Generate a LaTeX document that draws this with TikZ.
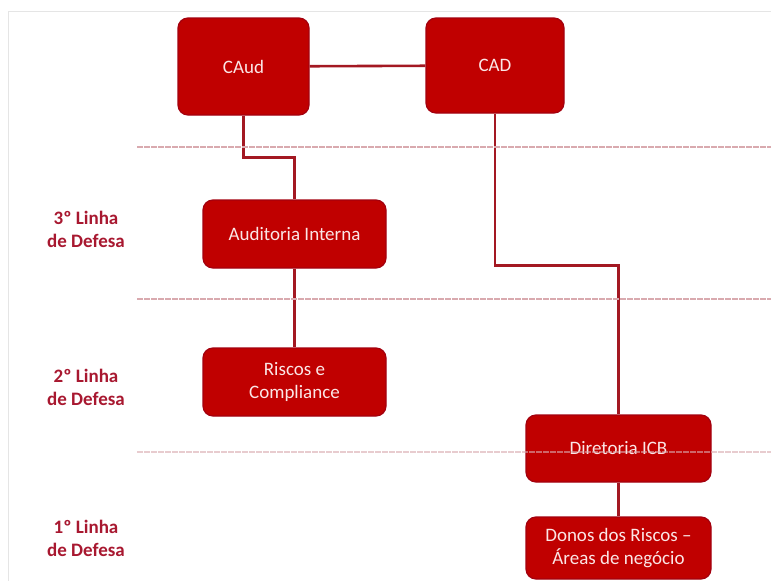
\documentclass[tikz,border=0pt]{standalone}
\usepackage{fontspec}
\setmainfont{Carlito}
\usepackage{tikz}
\usetikzlibrary{positioning, arrows.meta}

\definecolor{boxred}{HTML}{C00000}
\definecolor{boxedge}{HTML}{A3000E}
\definecolor{linkred}{HTML}{A31822}
\definecolor{lblred}{HTML}{A81830}
\definecolor{sepred}{HTML}{D9AAAF}
\definecolor{boxtext}{HTML}{FBE6E6}

\begin{document}
\begin{tikzpicture}[
        x=1pt, y=-1pt,
        every node/.style={font=\fontsize{19}{23}\selectfont},
        box/.style={rectangle, rounded corners=10pt, draw=boxedge, fill=boxred, line width=1.2pt, text=boxtext, align=center, inner sep=0pt},
        link/.style={draw=linkred, line width=2.6pt},
        sep/.style={draw=sepred, line width=1.6pt, dash pattern=on 6pt off 1pt},
        lbl/.style={text=lblred, font=\fontsize{19}{23}\selectfont\bfseries, align=center}
    ]
        \useasboundingbox (0,0) rectangle (771,581);
        % Frame
        \draw[black!10, line width=1pt] (8,581) -- (8,11) -- (771,11);
        % Top: committees
        \node[box, minimum width=131pt, minimum height=97pt] (caud) at (243.5,66.5) {CAud};
        \node[box, minimum width=138pt, minimum height=95pt] (cad) at (495,65.5) {CAD};
        % Boxes of the lines of defense
        \node[box, minimum width=183pt, minimum height=68pt] (audit) at (294.5,234) {Auditoria Interna};
        \node[box, minimum width=183pt, minimum height=68pt] (riscos) at (294.5,382) {Riscos e\\Compliance};
        \node[box, minimum width=185pt, minimum height=67pt] (diretoria) at (618.5,448.5) {Diretoria ICB};
        \node[box, minimum width=185pt, minimum height=62pt] (donos) at (618.5,548) {Donos dos Riscos --\\Áreas de negócio};
        % Labels of the lines
        \node[lbl] (lin3) at (86,229) {3º Linha\\de Defesa};
        \node[lbl] (lin2) at (86,387) {2º Linha\\de Defesa};
        \node[lbl] (lin1) at (86,538) {1º Linha\\de Defesa};
        % Connectors
        \draw[link] (caud) -- (cad);
        \draw[link] (caud.south) -- ++(0,42) -| (audit.north);
        \draw[link] (audit) -- (riscos);
        \draw[link] (cad.south) -- ++(0,152) -| (diretoria.north);
        \draw[link] (diretoria) -- (donos);
        % Separators
        \draw[sep] (137,147) -- (771,147);
        \draw[sep] (137,299) -- (771,299);
        \draw[sep, opacity=0.6] (137,452) -- (771,452);
    \end{tikzpicture}
\end{document}
